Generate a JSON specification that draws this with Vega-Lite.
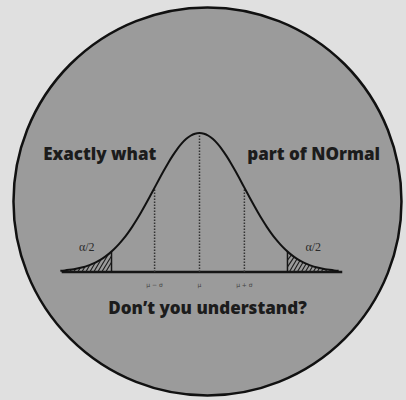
{
  "$schema": "https://vega.github.io/schema/vega-lite/v6.json",
  "width": 406,
  "height": 400,
  "padding": 0,
  "autosize": {"type": "fit", "contains": "padding"},
  "background": "#e0e0e0",
  "config": {"view": {"stroke": null}},
  "datasets": {
    "circle": [{"x": 0.178, "y": 0.2023}],
    "curve": [
      {"x": -3.1, "y": 0.0033}, {"x": -3.0, "y": 0.0044}, {"x": -2.9, "y": 0.0060}, {"x": -2.8, "y": 0.0079},
      {"x": -2.7, "y": 0.0104}, {"x": -2.6, "y": 0.0136}, {"x": -2.5, "y": 0.0175}, {"x": -2.4, "y": 0.0224},
      {"x": -2.3, "y": 0.0283}, {"x": -2.2, "y": 0.0355}, {"x": -2.1, "y": 0.0440}, {"x": -2.0, "y": 0.0540},
      {"x": -1.9, "y": 0.0656}, {"x": -1.8, "y": 0.0790}, {"x": -1.7, "y": 0.0940}, {"x": -1.6, "y": 0.1109},
      {"x": -1.5, "y": 0.1295}, {"x": -1.4, "y": 0.1497}, {"x": -1.3, "y": 0.1714}, {"x": -1.2, "y": 0.1942},
      {"x": -1.1, "y": 0.2179}, {"x": -1.0, "y": 0.2420}, {"x": -0.9, "y": 0.2661}, {"x": -0.8, "y": 0.2897},
      {"x": -0.7, "y": 0.3123}, {"x": -0.6, "y": 0.3332}, {"x": -0.5, "y": 0.3521}, {"x": -0.4, "y": 0.3683},
      {"x": -0.3, "y": 0.3814}, {"x": -0.2, "y": 0.3910}, {"x": -0.1, "y": 0.3970}, {"x": 0.0, "y": 0.3989},
      {"x": 0.1, "y": 0.3970}, {"x": 0.2, "y": 0.3910}, {"x": 0.3, "y": 0.3814}, {"x": 0.4, "y": 0.3683},
      {"x": 0.5, "y": 0.3521}, {"x": 0.6, "y": 0.3332}, {"x": 0.7, "y": 0.3123}, {"x": 0.8, "y": 0.2897},
      {"x": 0.9, "y": 0.2661}, {"x": 1.0, "y": 0.2420}, {"x": 1.1, "y": 0.2179}, {"x": 1.2, "y": 0.1942},
      {"x": 1.3, "y": 0.1714}, {"x": 1.4, "y": 0.1497}, {"x": 1.5, "y": 0.1295}, {"x": 1.6, "y": 0.1109},
      {"x": 1.7, "y": 0.0940}, {"x": 1.8, "y": 0.0790}, {"x": 1.9, "y": 0.0656}, {"x": 2.0, "y": 0.0540},
      {"x": 2.1, "y": 0.0440}, {"x": 2.2, "y": 0.0355}, {"x": 2.3, "y": 0.0283}, {"x": 2.4, "y": 0.0224},
      {"x": 2.5, "y": 0.0175}, {"x": 2.6, "y": 0.0136}, {"x": 2.7, "y": 0.0104}, {"x": 2.8, "y": 0.0079},
      {"x": 2.9, "y": 0.0060}, {"x": 3.0, "y": 0.0044}, {"x": 3.1, "y": 0.0033}
    ],
    "baseline": [{"x": -3.07, "x2": 3.18, "y": 0}],
    "dotted": [
      {"x": -1, "y": 0, "y2": 0.2420},
      {"x": 0, "y": 0, "y2": 0.3989},
      {"x": 1, "y": 0, "y2": 0.2420}
    ],
    "edges": [
      {"x": -1.96, "y": 0, "y2": 0.0584},
      {"x": 1.96, "y": 0, "y2": 0.0584}
    ],
    "hatch": [
      {"x": -2.889, "y": 0, "x2": -2.858, "y2": 0.0068},
      {"x": -2.800, "y": 0, "x2": -2.758, "y2": 0.0091},
      {"x": -2.711, "y": 0, "x2": -2.658, "y2": 0.0117},
      {"x": -2.622, "y": 0, "x2": -2.551, "y2": 0.0151},
      {"x": -2.533, "y": 0, "x2": -2.440, "y2": 0.0205},
      {"x": -2.444, "y": 0, "x2": -2.320, "y2": 0.0271},
      {"x": -2.356, "y": 0, "x2": -2.189, "y2": 0.0362},
      {"x": -2.267, "y": 0, "x2": -2.038, "y2": 0.0496},
      {"x": -2.178, "y": 0, "x2": -1.960, "y2": 0.0460},
      {"x": -2.089, "y": 0, "x2": -1.960, "y2": 0.0280},
      {"x": 1.960, "y": 0.0145, "x2": 2.109, "y2": 0.0433},
      {"x": 1.960, "y": 0.0339, "x2": 2.049, "y2": 0.0490},
      {"x": 2.000, "y": 0, "x2": 2.171, "y2": 0.0373},
      {"x": 2.089, "y": 0, "x2": 2.238, "y2": 0.0328},
      {"x": 2.178, "y": 0, "x2": 2.307, "y2": 0.0279},
      {"x": 2.267, "y": 0, "x2": 2.376, "y2": 0.0237},
      {"x": 2.356, "y": 0, "x2": 2.449, "y2": 0.0199},
      {"x": 2.444, "y": 0, "x2": 2.520, "y2": 0.0165},
      {"x": 2.533, "y": 0, "x2": 2.596, "y2": 0.0137},
      {"x": 2.622, "y": 0, "x2": 2.673, "y2": 0.0111},
      {"x": 2.711, "y": 0, "x2": 2.753, "y2": 0.0091},
      {"x": 2.800, "y": 0, "x2": 2.833, "y2": 0.0071},
      {"x": 2.889, "y": 0, "x2": 2.916, "y2": 0.0057}
    ],
    "titles": [
      {"x": -2.222, "y": 0.322, "label": "Exactly what"},
      {"x": 2.544, "y": 0.322, "label": "part of NOrmal"},
      {"x": 0.178, "y": -0.1197, "label": "Don’t you understand?"}
    ],
    "alphas": [
      {"x": -2.511, "y": 0.0598, "label": "α/2"},
      {"x": 2.533, "y": 0.0598, "label": "α/2"}
    ],
    "mus": [
      {"x": -1, "y": -0.0430, "label": "μ − σ"},
      {"x": 0, "y": -0.0430, "label": "μ"},
      {"x": 1, "y": -0.0430, "label": "μ + σ"}
    ]
  },
  "encoding": {
    "x": {"field": "x", "type": "quantitative", "axis": null, "scale": {"domain": [-4.444, 4.578], "nice": false, "zero": false}},
    "y": {"field": "y", "type": "quantitative", "axis": null, "scale": {"domain": [-0.3591, 0.7808], "nice": false, "zero": false}}
  },
  "layer": [
    {
      "data": {"name": "circle"},
      "mark": {"type": "point", "shape": "circle", "filled": true, "size": 150544, "fill": "#9b9b9b", "fillOpacity": 1, "stroke": "#111111", "strokeWidth": 2.5, "strokeOpacity": 1}
    },
    {
      "data": {"name": "baseline"},
      "mark": {"type": "rule", "color": "#151515", "strokeWidth": 2.5},
      "encoding": {"x2": {"field": "x2"}}
    },
    {
      "data": {"name": "dotted"},
      "mark": {"type": "rule", "color": "#333333", "strokeWidth": 1.5, "strokeDash": [1.5, 1.5]},
      "encoding": {"y2": {"field": "y2"}}
    },
    {
      "data": {"name": "edges"},
      "mark": {"type": "rule", "color": "#151515", "strokeWidth": 1.5},
      "encoding": {"y2": {"field": "y2"}}
    },
    {
      "data": {"name": "hatch"},
      "mark": {"type": "rule", "color": "#1a1a1a", "strokeWidth": 1.1},
      "encoding": {"x2": {"field": "x2"}, "y2": {"field": "y2"}}
    },
    {
      "data": {"name": "curve"},
      "mark": {"type": "line", "interpolate": "monotone", "color": "#111111", "strokeWidth": 2}
    },
    {
      "data": {"name": "titles"},
      "mark": {"type": "text", "font": "Open Sans", "fontWeight": 800, "fontSize": 17, "color": "#1c1c1c", "align": "center", "baseline": "alphabetic"},
      "encoding": {"text": {"field": "label"}}
    },
    {
      "data": {"name": "alphas"},
      "mark": {"type": "text", "font": "Liberation Serif", "fontSize": 12, "color": "#2a2a2a", "align": "center", "baseline": "alphabetic"},
      "encoding": {"text": {"field": "label"}}
    },
    {
      "data": {"name": "mus"},
      "mark": {"type": "text", "font": "DejaVu Sans", "fontSize": 6, "color": "#444444", "align": "center", "baseline": "alphabetic"},
      "encoding": {"text": {"field": "label"}}
    }
  ]
}
